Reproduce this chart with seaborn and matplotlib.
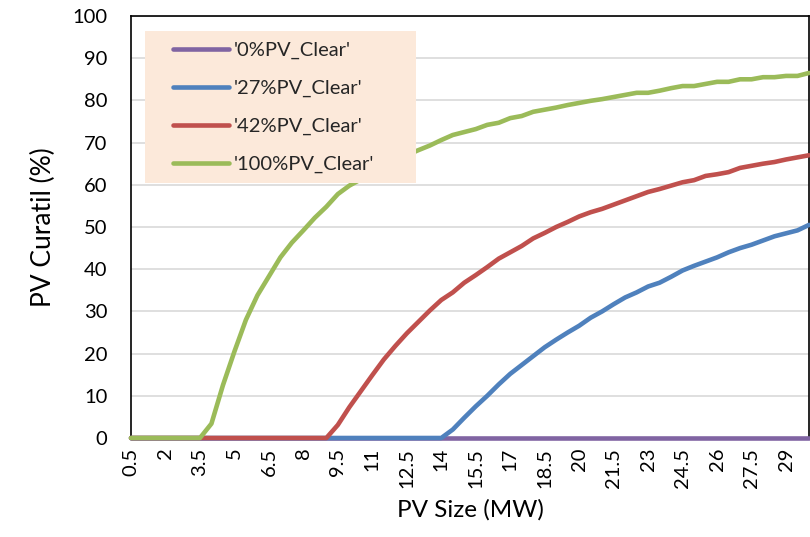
import matplotlib
matplotlib.use("Agg")
import matplotlib.pyplot as plt
from matplotlib.patches import Rectangle
import seaborn as sns
import pandas as pd

# ---------------- data ----------------
pv_size = [0.5, 1, 1.5, 2, 2.5, 3, 3.5, 4, 4.5, 5,
           5.5, 6, 6.5, 7, 7.5, 8, 8.5, 9, 9.5, 10,
           10.5, 11, 11.5, 12, 12.5, 13, 13.5, 14, 14.5, 15,
           15.5, 16, 16.5, 17, 17.5, 18, 18.5, 19, 19.5, 20,
           20.5, 21, 21.5, 22, 22.5, 23, 23.5, 24, 24.5, 25,
           25.5, 26, 26.5, 27, 27.5, 28, 28.5, 29, 29.5, 30]

pv0 = [0, 0, 0, 0, 0, 0, 0, 0, 0, 0,
       0, 0, 0, 0, 0, 0, 0, 0, 0, 0,
       0, 0, 0, 0, 0, 0, 0, 0, 0, 0,
       0, 0, 0, 0, 0, 0, 0, 0, 0, 0,
       0, 0, 0, 0, 0, 0, 0, 0, 0, 0,
       0, 0, 0, 0, 0, 0, 0, 0, 0, 0]

pv27 = [0, 0, 0, 0, 0, 0, 0, 0, 0, 0,
        0, 0, 0, 0, 0, 0, 0, 0, 0, 0,
        0, 0, 0, 0, 0, 0, 0, 0, 2.0, 4.8,
        7.5, 10.0, 12.7, 15.2, 17.3, 19.4, 21.5, 23.3, 25.0, 26.6,
        28.5, 30.0, 31.7, 33.3, 34.5, 35.9, 36.8, 38.2, 39.7, 40.8,
        41.8, 42.8, 44.0, 45.0, 45.8, 46.8, 47.8, 48.5, 49.2, 50.5]

pv42 = [0, 0, 0, 0, 0, 0, 0, 0, 0, 0,
        0, 0, 0, 0, 0, 0, 0, 0, 3.1, 7.3,
        11.1, 14.9, 18.6, 21.8, 24.8, 27.5, 30.2, 32.7, 34.5, 36.8,
        38.6, 40.5, 42.5, 44.0, 45.5, 47.3, 48.6, 50.0, 51.2, 52.5,
        53.5, 54.3, 55.3, 56.3, 57.3, 58.3, 59.0, 59.8, 60.6, 61.1,
        62.1, 62.5, 63.0, 64.0, 64.5, 65.0, 65.4, 66.0, 66.5, 67.0]

pv100 = [0, 0, 0, 0, 0, 0, 0, 3.4, 12.5, 20.5,
         28.0, 33.8, 38.3, 42.8, 46.3, 49.2, 52.2, 54.8, 57.8, 59.8,
         61.3, 62.8, 64.3, 65.8, 67.0, 68.2, 69.3, 70.6, 71.8, 72.5,
         73.2, 74.2, 74.7, 75.8, 76.3, 77.3, 77.8, 78.3, 78.9, 79.4,
         79.9, 80.3, 80.8, 81.3, 81.8, 81.8, 82.3, 82.9, 83.4, 83.4,
         83.9, 84.4, 84.4, 85.0, 85.0, 85.5, 85.5, 85.8, 85.8, 86.5]

series_names = ["'0%PV_Clear'", "'27%PV_Clear'", "'42%PV_Clear'", "'100%PV_Clear'"]
series_colors = ["#8064A2", "#4F81BD", "#C0504D", "#9BBB59"]

xtick_labels = ["0.5", "2", "3.5", "5", "6.5", "8", "9.5", "11", "12.5", "14",
                "15.5", "17", "18.5", "20", "21.5", "23", "24.5", "26", "27.5", "29"]
ytick_values = [0, 10, 20, 30, 40, 50, 60, 70, 80, 90, 100]

# ---------------- build long table ----------------
frames = []
for name, vals in zip(series_names, [pv0, pv27, pv42, pv100]):
    frames.append(pd.DataFrame({"idx": range(len(pv_size)), "size": pv_size,
                                "curtail": vals, "series": name}))
df = pd.concat(frames, ignore_index=True)

# ---------------- plot ----------------
sns.set_theme(style="white")
plt.rcParams["font.family"] = ["Lato", "DejaVu Sans"]

fig = plt.figure(figsize=(8.1, 5.37), dpi=100)
ax = fig.add_axes([131 / 810, 1 - 438 / 537, 678 / 810, 422 / 537])

LW = 3.3
sns.lineplot(data=df, x="idx", y="curtail", hue="series", hue_order=series_names,
             palette=series_colors, linewidth=LW, estimator=None, sort=False,
             ax=ax, legend=False)
for ln in ax.get_lines():
    ln.set_clip_on(False)
    ln.set_zorder(3)

ax.set_xlim(0, len(pv_size) - 1)
ax.set_ylim(0, 100)

tick_pos = [i for i, s in enumerate(pv_size) if ("%g" % s) in xtick_labels]
ax.set_xticks(tick_pos)
ax.set_xticklabels(xtick_labels, rotation=90, fontsize=14.5, color="#000000")
ax.set_yticks(ytick_values)
ax.set_yticklabels([str(v) for v in ytick_values], fontsize=14.5, color="#000000")
ax.tick_params(axis="x", length=0, pad=7)
ax.tick_params(axis="y", length=0, pad=17)

ax.yaxis.grid(True, color="#D9D9D9", linewidth=1.2)
ax.xaxis.grid(False)
ax.set_axisbelow(True)
for sp in ax.spines.values():
    sp.set_visible(True)
    sp.set_color("#000000")
    sp.set_linewidth(1.2)

ax.set_xlabel("PV Size (MW)", fontsize=17.5, labelpad=8, color="#000000")
ax.set_ylabel("PV Curatil (%)", fontsize=19, labelpad=12, color="#000000")

# legend background box
bx0, by1 = (145 - 131) / 678, (438 - 31) / 422
bw, bh = (416 - 145) / 678, (183 - 31) / 422
ax.add_patch(Rectangle((bx0, by1 - bh), bw, bh, transform=ax.transAxes,
                       facecolor="#FCE9DA", edgecolor="none", zorder=4))

handles = [plt.Line2D([], [], color=c, linewidth=LW, solid_capstyle="round")
           for c in series_colors]
leg = ax.legend(handles, series_names, loc="upper left",
                bbox_to_anchor=((167 - 131) / 678, (438 - 36) / 422),
                frameon=False, fontsize=14.5, handlelength=2.8,
                handletextpad=0.2, labelspacing=1.02, borderaxespad=0,
                borderpad=0.3)
leg.set_zorder(5)

fig.savefig("out.png", dpi=100)
